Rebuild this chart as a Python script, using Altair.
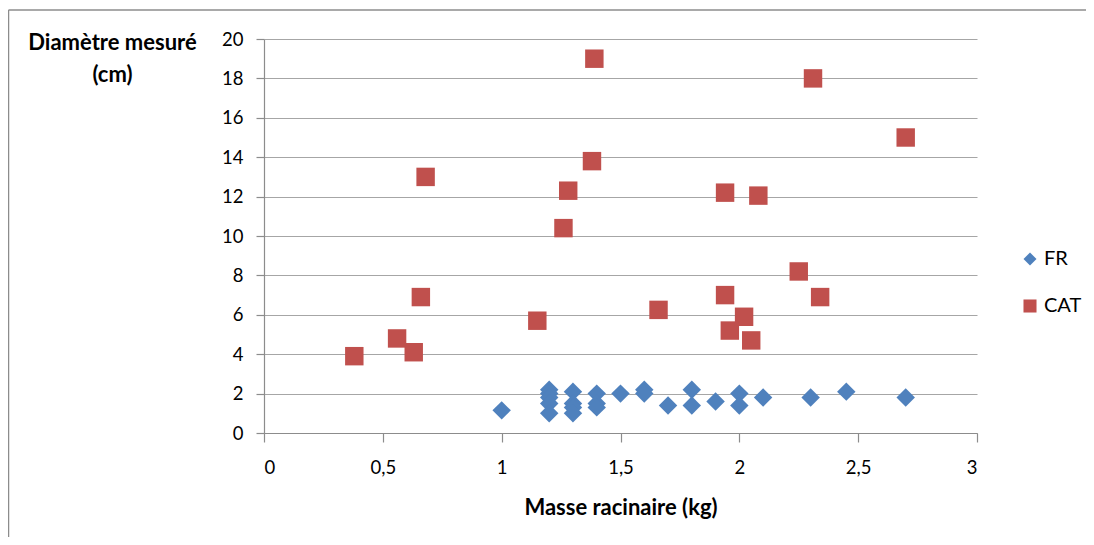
import altair as alt
import pandas as pd

# --- data ---
fr_x = [1.0, 1.2, 1.2, 1.2, 1.2, 1.2, 1.3, 1.3, 1.3, 1.3, 1.4, 1.4, 1.4, 1.5,
        1.6, 1.6, 1.7, 1.8, 1.8, 1.9, 2.0, 2.0, 2.1, 2.3, 2.45, 2.7]
fr_y = [1.15, 2.2, 2.0, 1.8, 1.5, 1.0, 2.1, 1.5, 1.3, 1.0, 2.0, 1.5, 1.3, 2.0,
        2.2, 2.0, 1.4, 2.2, 1.4, 1.6, 2.0, 1.4, 1.8, 1.8, 2.1, 1.8]

cat_x = [0.38, 0.56, 0.63, 0.66, 0.68, 1.15, 1.26, 1.28, 1.38, 1.39, 1.66, 1.94,
         1.94, 1.96, 2.02, 2.05, 2.08, 2.25, 2.31, 2.34, 2.70]
cat_y = [3.9, 4.8, 4.1, 6.9, 13.0, 5.7, 10.4, 12.3, 13.8, 19.0, 6.25, 12.2,
         7.0, 5.2, 5.9, 4.7, 12.05, 8.2, 18.0, 6.9, 15.0]

series = ["FR", "CAT"]
x_ticks = [0, 0.5, 1, 1.5, 2, 2.5, 3]
y_ticks = [0, 2, 4, 6, 8, 10, 12, 14, 16, 18, 20]

df = pd.DataFrame({
    "x": fr_x + cat_x,
    "y": fr_y + cat_y,
    "s": ["FR"] * len(fr_x) + ["CAT"] * len(cat_x),
})

FONT = "Lato"

points = alt.Chart(df).mark_point(filled=True, opacity=1, size=340).encode(
    x=alt.X("x:Q",
            scale=alt.Scale(domain=[0, 3], nice=False, zero=True),
            axis=alt.Axis(values=x_ticks, grid=False,
                          labelExpr="replace(toString(datum.value), '.', ',')",
                          title="Masse racinaire (kg)",
                          titleY=74, titleBaseline="middle",
                          tickSize=9, labelPadding=16)),
    y=alt.Y("y:Q",
            scale=alt.Scale(domain=[0, 20], nice=False),
            axis=alt.Axis(values=y_ticks, grid=True,
                          title=["Diamètre mesuré", "(cm)"],
                          titleAngle=0, titleAlign="center",
                          titleX=-152, titleY=-7, titleBaseline="top",
                          titleLineHeight=32,
                          tickSize=8, labelPadding=13)),
    color=alt.Color("s:N",
                    scale=alt.Scale(domain=series, range=["#4F81BD", "#C0504D"]),
                    legend=alt.Legend(title=None, orient="none",
                                      legendX=756, legendY=210,
                                      symbolSize=170, rowPadding=27,
                                      labelFontSize=20, labelFont=FONT,
                                      labelColor="#000000", symbolOpacity=1)),
    shape=alt.Shape("s:N",
                    scale=alt.Scale(domain=series, range=["diamond", "square"]),
                    legend=None),
)

blank = alt.Data(values=[{"k": 1}])
border_v = alt.Chart(blank).mark_rule(color="#8c8c8c", strokeWidth=1.5).encode(
    x=alt.value(-255.5), y=alt.value(-29), y2=alt.value(600))
border_h = alt.Chart(blank).mark_rule(color="#8c8c8c", strokeWidth=1.5).encode(
    x=alt.value(-255.5), x2=alt.value(900), y=alt.value(-29))

chart = alt.layer(border_v, border_h, points).properties(
    width=713, height=394,
    background="white",
    autosize=alt.AutoSizeParams(type="none"),
    padding={"left": 256, "top": 31, "right": 109, "bottom": 104},
).configure_view(stroke=None).configure_axis(
    labelFont=FONT, labelFontSize=18.5, labelColor="#000000",
    titleFont=FONT, titleFontSize=22, titleFontWeight="bold", titleColor="#000000",
    domainColor="#8c8c8c", tickColor="#8c8c8c", gridColor="#a6a6a6",
    domainWidth=1.2, tickWidth=1.2, gridWidth=1.2,
)

chart.save("out.html", embed_options={"renderer": "svg", "actions": False})
